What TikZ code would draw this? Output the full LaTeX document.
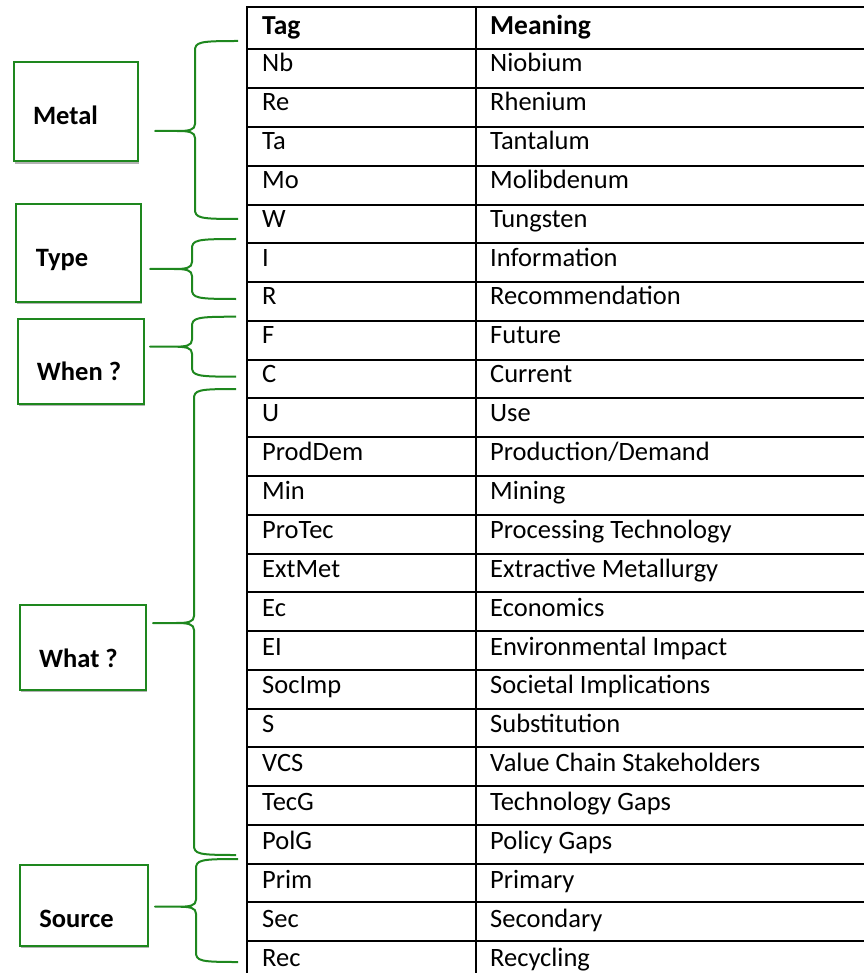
\documentclass[tikz,border=0pt]{standalone}
\usepackage{fontspec}
\setmainfont{Carlito}
\usetikzlibrary{calc,shadows}
\definecolor{boxgreen}{RGB}{30,135,30}
\tikzset{
  tagbox/.style={draw=boxgreen, line width=2pt, fill=white,
    drop shadow={shadow xshift=1.5pt, shadow yshift=-2.5pt, opacity=0.3, fill=black}},
  boxlabel/.style={font=\bfseries\fontsize{26.5}{31}\selectfont, anchor=base, inner sep=0pt},
  celltext/.style={font=\fontsize{26.5}{31}\selectfont, anchor=base west, inner sep=0pt},
  headtext/.style={celltext, font=\bfseries\fontsize{27.5}{32}\selectfont},
  rule/.style={line width=2pt, black, line cap=rect},
  bracestyle/.style={draw=boxgreen, line width=2pt, line join=round}
}
% curly brace: #1 upper end, #2 lower end, #3 tip, #4 x of the spine
\newcommand\tagbrace[4]{%
  \draw[bracestyle] let \p1=(#1), \p2=(#2), \p3=(#3) in
    (\p1) .. controls (#4+4pt,\y1) and (#4,\y1-1pt) .. (#4,\y1-10pt)
    -- (#4,\y3+7pt)
    .. controls (#4,\y3+1pt) and (#4-6pt,\y3) .. (#4-18pt,\y3)
    -- (\p3)
    -- (#4-18pt,\y3)
    .. controls (#4-6pt,\y3) and (#4,\y3-1pt) .. (#4,\y3-7pt)
    -- (#4,\y2+10pt)
    .. controls (#4,\y2+1pt) and (#4+4pt,\y2) .. (\p2);
}
\begin{document}
\begin{tikzpicture}[x=1pt, y=-1pt]
\useasboundingbox (0,0) rectangle (863,973);

% table grid
\draw[rule] (247,7.3) -- (863,7.3);
\foreach \i in {0,...,23} {
  \draw[rule] (247,{49.5+38.77*\i}) -- (863,{49.5+38.77*\i});
}
\draw[rule] (247,7.3) -- (247,975);
\draw[rule] (476,7.3) -- (476,975);

% header
\node[headtext] (tag-head) at (262,34.5) {Tag};
\node[headtext] (mean-head) at (490,34.5) {Meaning};

% rows
\foreach \t/\m [count=\i from 0] in {
  Nb/Niobium, Re/Rhenium, Ta/Tantalum, Mo/Molibdenum, W/Tungsten,
  I/Information, R/Recommendation, F/Future, C/Current, U/Use,
  ProdDem/{Production/Demand}, Min/Mining, ProTec/Processing Technology,
  ExtMet/Extractive Metallurgy, Ec/Economics, EI/Environmental Impact,
  SocImp/Societal Implications, S/Substitution, VCS/Value Chain Stakeholders,
  TecG/Technology Gaps, PolG/Policy Gaps, Prim/Primary, Sec/Secondary,
  Rec/Recycling} {
  \node[celltext] (tag\i) at (262,{71.5+38.9*\i}) {\t};
  \node[celltext] (mean\i) at (490,{71.5+38.9*\i}) {\m};
}

% category boxes
\node[tagbox, minimum width=124pt, minimum height=99pt] (metal) at (75.5,112) {};
\node[tagbox, minimum width=125pt, minimum height=97pt] (type) at (78,253) {};
\node[tagbox, minimum width=126pt, minimum height=85pt] (when) at (80.5,361) {};
\node[tagbox, minimum width=126pt, minimum height=85pt] (what) at (82.5,647) {};
\node[tagbox, minimum width=128pt, minimum height=81pt] (source) at (83.5,905) {};

\node[boxlabel] (metal-text) at (65.5,125) {Metal};
\node[boxlabel] (type-text) at (62,266.7) {Type};
\node[boxlabel] (when-text) at (79,380.7) {When ?};
\node[boxlabel] (what-text) at (78.5,667.7) {What ?};
\node[boxlabel] (source-text) at (76.5,927.7) {Source};

% brace anchors
\coordinate (metal-top) at (238,41);
\coordinate (metal-bot) at (238,219);
\coordinate (metal-tip) at (155,131);
\coordinate (type-top) at (236,239);
\coordinate (type-bot) at (236,299);
\coordinate (type-tip) at (150,269);
\coordinate (when-top) at (236,316.7);
\coordinate (when-bot) at (236,376.7);
\coordinate (when-tip) at (150,346.7);
\coordinate (what-top) at (236,389);
\coordinate (what-bot) at (236,855);
\coordinate (what-tip) at (153,623);
\coordinate (source-top) at (238,859);
\coordinate (source-bot) at (238,962);
\coordinate (source-tip) at (155,906.7);

\tagbrace{metal-top}{metal-bot}{metal-tip}{195pt}
\tagbrace{type-top}{type-bot}{type-tip}{192pt}
\tagbrace{when-top}{when-bot}{when-tip}{192pt}
\tagbrace{what-top}{what-bot}{what-tip}{194pt}
\tagbrace{source-top}{source-bot}{source-tip}{196pt}
\end{tikzpicture}
\end{document}
